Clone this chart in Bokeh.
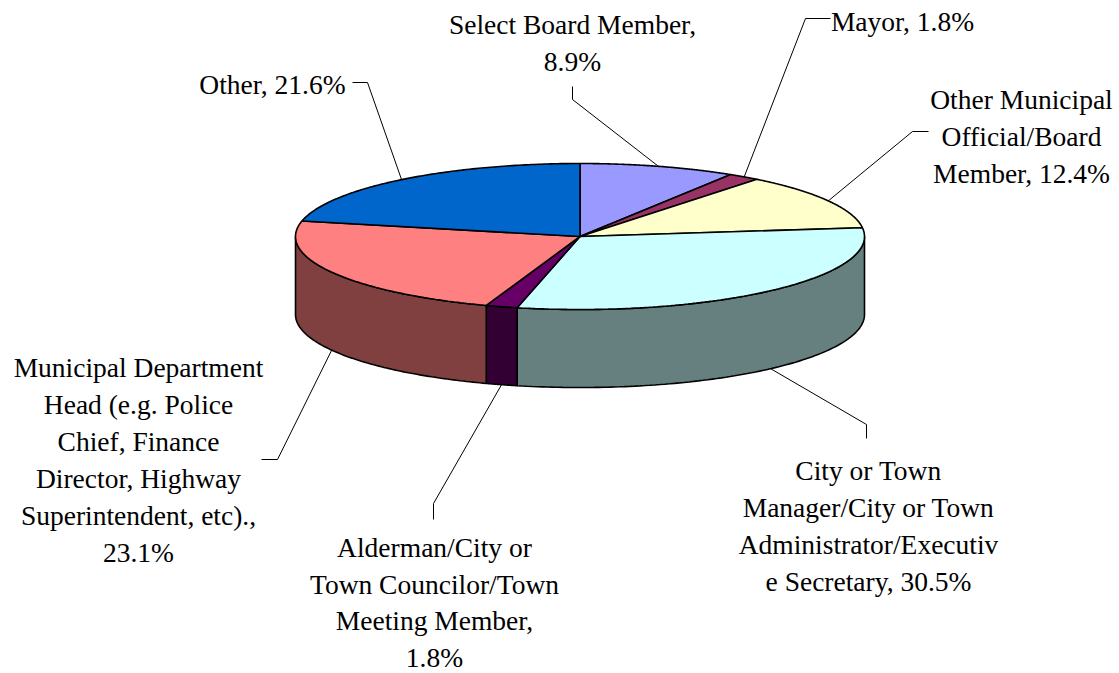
import numpy as np
from bokeh.plotting import figure
from bokeh.models import ColumnDataSource
from bokeh.core.properties import value
from bokeh.embed import file_html
from bokeh.resources import INLINE

categories = ["Select Board Member", "Mayor", "Other Municipal Official/Board Member",
              "City or Town Manager/City or Town Administrator/Executive Secretary",
              "Alderman/City or Town Councilor/Town Meeting Member",
              "Municipal Department Head (e.g. Police Chief, Finance Director, Highway Superintendent, etc).",
              "Other"]
shares = [8.9, 1.8, 12.4, 30.5, 1.8, 23.1, 21.6]
top_colors = ["#9999FF", "#993366", "#FFFFCC", "#CCFFFF", "#660066", "#FF8080", "#0066CC"]
side_colors = ["#4C4C80", "#4C1933", "#808066", "#668080", "#330033", "#804040", "#003366"]
label_lines = [
    ["Select Board Member,", "8.9%"],
    ["Mayor, 1.8%"],
    ["Other Municipal", "Official/Board", "Member, 12.4%"],
    ["City or Town", "Manager/City or Town", "Administrator/Executiv", "e Secretary, 30.5%"],
    ["Alderman/City or", "Town Councilor/Town", "Meeting Member,", "1.8%"],
    ["Municipal Department", "Head (e.g. Police", "Chief, Finance", "Director, Highway", "Superintendent, etc).,", "23.1%"],
    ["Other, 21.6%"],
]

# layout (page pixels)
CX, CY, RX, RY, DEPTH = 579.5, 236.0, 284.5, 73.0, 78.0
label_pos = [(572, 24), (902, 21), (1021, 99), (868, 470), (434, 547), (138, 367), (272, 84)]
line_steps = [37, 37, 37, 37, 36.5, 37, 37]
elbows = [
    [(572, 86), (572, 99)],
    [(830, 18), (805, 18)],
    [(928, 131), (912, 131)],
    [(866, 438), (866, 424)],
    [(433, 519), (433, 503)],
    [(261, 459), (277, 459)],
    [(352, 82), (367, 82)],
]

p = figure(width=1119, height=673, x_range=(0, 1119), y_range=(673, 0),
           toolbar_location=None, output_backend="svg", min_border=0,
           outline_line_color=None, background_fill_color="white", border_fill_color="white")
p.axis.visible = False
p.grid.visible = False

total = sum(shares)
edges = np.concatenate([[0.0], np.cumsum(shares)]) / total * 2 * np.pi


def ex(t):
    return CX + RX * np.sin(t)


def ey(t):
    return CY - RY * np.cos(t)


# side walls (front half only)
sx, sy, sc = [], [], []
for a, b, c in zip(edges[:-1], edges[1:], side_colors):
    lo, hi = max(a, np.pi / 2), min(b, 3 * np.pi / 2)
    if lo >= hi:
        continue
    t = np.linspace(lo, hi, 100)
    sx.append(np.concatenate([ex(t), ex(t[::-1])]).tolist())
    sy.append(np.concatenate([ey(t), ey(t[::-1]) + DEPTH]).tolist())
    sc.append(c)
p.patches("x", "y", source=ColumnDataSource(dict(x=sx, y=sy, c=sc)),
          fill_color="c", line_color="black", line_width=1.6)

# top faces
tx, ty = [], []
for a, b in zip(edges[:-1], edges[1:]):
    t = np.linspace(a, b, 120)
    tx.append([CX] + ex(t).tolist())
    ty.append([CY] + ey(t).tolist())
p.patches("x", "y", source=ColumnDataSource(dict(x=tx, y=ty, c=top_colors)),
          fill_color="c", line_color="black", line_width=1.6)

# leader lines, anchored at each slice's mid angle
lx, ly = [], []
for a, b, el in zip(edges[:-1], edges[1:], elbows):
    m = (a + b) / 2
    ax, ay = ex(m), ey(m)
    if np.pi / 2 < m < 3 * np.pi / 2:
        ay += DEPTH
    lx.append([e[0] for e in el] + [float(ax)])
    ly.append([e[1] for e in el] + [float(ay)])
p.multi_line("x", "y", source=ColumnDataSource(dict(x=lx, y=ly)), line_color="black", line_width=1)

# labels
xs, ys, txt = [], [], []
for lines, (x0, y0), step in zip(label_lines, label_pos, line_steps):
    for i, s in enumerate(lines):
        xs.append(x0)
        ys.append(y0 + i * step)
        txt.append(s)
p.text("x", "y", "t", source=ColumnDataSource(dict(x=xs, y=ys, t=txt)),
       text_font=value("Liberation Serif"), text_font_size="27.5px",
       text_align="center", text_baseline="middle", text_color="black")

open("out.html", "w").write(file_html(p, INLINE))
